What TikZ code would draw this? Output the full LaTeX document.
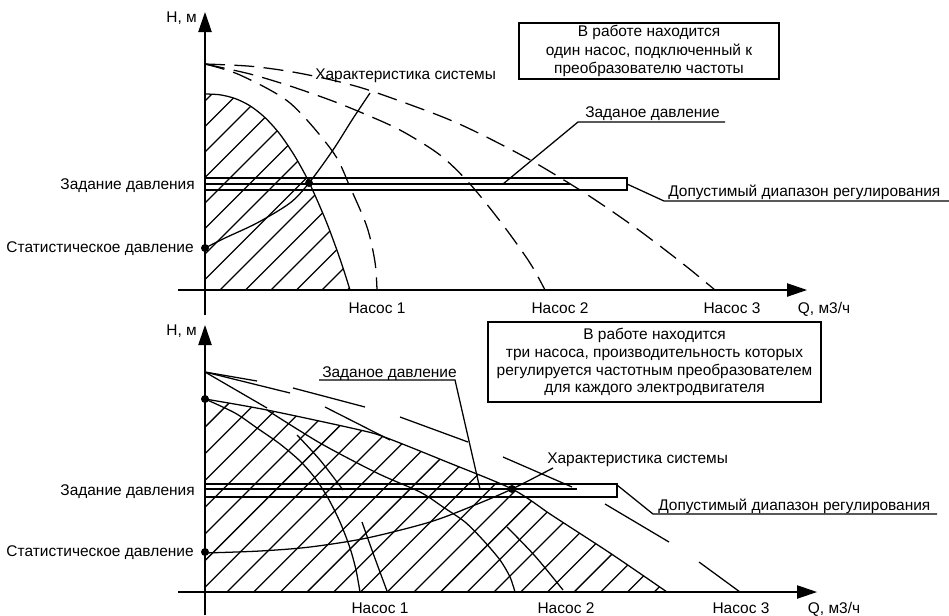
\documentclass[tikz,border=0pt]{standalone}
\usepackage{fontspec}
\setmainfont{Liberation Sans}
\usetikzlibrary{arrows.meta}
\begin{document}
\begin{tikzpicture}[x=0.75pt,y=-0.75pt,
  every node/.style={inner sep=0pt, font=\fontsize{11.6}{13.9}\selectfont},
  ln/.style={line width=0.95pt},
  axis/.style={line width=0.95pt,-{Triangle[length=15pt,width=10pt]}},
  dsh/.style={line width=0.95pt,dash pattern=on 15pt off 7pt},
  hatchline/.style={line width=0.95pt},
  dot/.style={circle,fill,inner sep=0pt,minimum size=6pt},
  lbl/.style={anchor=base east},
  lblw/.style={anchor=base west},
  lblc/.style={anchor=base},
  infobox/.style={draw,line width=0.95pt,align=center}
]
\useasboundingbox (0,0) rectangle (949,615);

% ================= TOP CHART =================
\coordinate (yb1) at (205,315); \coordinate (yt1) at (205,12);
\coordinate (xl1) at (178,290); \coordinate (xr1) at (807,290);
\draw[axis] (yb1) -- (yt1);
\draw[axis] (xl1) -- (xr1);

% hatched area under pump 1
\begin{scope}
\clip (205,290) -- plot[smooth] coordinates {(205,94) (220,94.8) (235,98.5) (250,105.8) (265,117.6) (280,134.3) (295,156.5) (309,182.2) (325,218.5) (335,244.8) (340,259) (345,274) (350,290)} -- cycle;
\foreach \k in {-8,...,6} \draw[hatchline] ({220+25.5*\k},290) -- ++(230,-230);
\end{scope}
\draw[ln] plot[smooth] coordinates {(205,94) (220,94.8) (235,98.5) (250,105.8) (265,117.6) (280,134.3) (295,156.5) (309,182.2) (325,218.5) (335,244.8) (340,259) (345,274) (350,290)};

% dashed pump curves
\draw[dsh] plot[smooth] coordinates {(205,64) (240,75) (290,103) (333,152) (350,187) (367,227) (375,262) (377,290)};
\draw[dsh] plot[smooth] coordinates {(205,64) (250,74) (290,86) (330,100) (360,112) (400,130) (440,155) (470,184) (503,225) (530,263) (545,290)};
\draw[dsh] plot[smooth] coordinates {(205,64) (250,66.2) (290,71.5) (330,79.6) (370,90.5) (440,115.9) (480,133.8) (532,161) (587,194.5) (637,228.8) (683,263.8) (715,290)};

% system characteristic
\draw[ln] plot[smooth] coordinates {(205,248) (225,238) (257,223) (290,203) (309,183) (333,150) (352,120) (370,93)};

% pressure band
\draw[ln] (205,178) rectangle (627,190);
\draw[ln] (205,184) -- (570,184);

\node[dot] (st1) at (205,248) {};
\node[dot] (op1) at (309,183) {};

% labels
\node[lbl] (h1) at (197,22) {Н, м};
\node[lbl] (zd1) at (195,189) {Задание давления};
\node[lbl] (sd1) at (194,252) {Статистическое давление};
\node[lblc] (n11) at (377,313) {Насос 1};
\node[lblc] (n21) at (560,313) {Насос 2};
\node[lblc] (n31) at (732,313) {Насос 3};
\node[lblc] (q1) at (824,313) {Q, м3/ч};
\node[lblw] (hs1) at (315,79) {Характеристика системы};
\node[lblw] (zp1) at (585,117) {Заданое давление};
\node[lblw] (dd1) at (668,196) {Допустимый диапазон регулирования};
\node[infobox, minimum width=195pt, minimum height=42pt] (box1) at (649,51)
  {В работе находится\\один насос, подключенный к\\преобразователю частоты};

% leaders
\coordinate (zpa) at (503,184); \coordinate (zpb) at (578,122); \coordinate (zpc) at (725,122);
\draw[ln] (zpa) -- (zpb) -- (zpc);
\coordinate (dda) at (627,184); \coordinate (ddb) at (664,201); \coordinate (ddc) at (949,201);
\draw[ln] (dda) -- (ddb) -- (ddc);

% ================= BOTTOM CHART =================
\coordinate (yb2) at (205,615); \coordinate (yt2) at (205,325);
\coordinate (xl2) at (178,592); \coordinate (xr2) at (817,592);
\draw[axis] (yb2) -- (yt2);
\draw[axis] (xl2) -- (xr2);

\begin{scope}
\clip (205,592) -- plot[smooth] coordinates {(205,399) (267,410) (360,430) (387,438) (447,462) (512,489) (550,514) (570,527) (613,555) (667,592)} -- cycle;
\foreach \k in {-8,...,16} \draw[hatchline] ({227+26.7*\k},592) -- ++(300,-300);
\end{scope}
% envelope
\draw[ln] plot[smooth] coordinates {(205,399) (267,410) (360,430) (387,438) (447,462) (512,489) (550,514) (570,527) (613,555) (667,592)};
% pump 1 reduced
\draw[ln] plot[smooth] coordinates {(205,399) (235,413) (257,428) (280,444) (300,461) (315,478) (328,498) (340,522) (350,548) (356,570) (360,592)};
% pumps 1+2 reduced
\draw[ln] plot[smooth] coordinates {(267,410) (320,443) (377,473) (420,492) (443,507) (465,522) (483,540) (500,560) (510,577) (515,592)};
% pump 1 at full speed (long dashes)
\draw[ln] (205,372) -- (267,408);
\draw[ln] plot[smooth] coordinates {(297,435) (320,460) (343,490)};
\draw[ln] plot[smooth] coordinates {(362,522) (373,553) (387,591)};
% pumps 1+2 at full speed (long dashes)
\draw[ln] (205,372) -- (290,393);
\draw[ln] (325,407) -- (390,440);
\draw[ln] plot[smooth] coordinates {(507,527) (535,556) (563,590)};
% three pumps at full speed (long dashes)
\draw[ln] (205,372) -- (257,381);
\draw[ln] (293,388) -- (365,407);
\draw[ln] (400,417) -- (468,442);
\draw[ln] (503,457) -- (572,487);
\draw[ln] (605,504) -- (669,542);
\draw[ln] (699,562) -- (740,592);

% system characteristic
\draw[ln] plot[smooth] coordinates {(205,553) (260,551) (310,547) (367,538) (430,522) (475,505) (512,489) (553,468)};

% band
\draw[ln] (205,484) rectangle (617,497);
\draw[ln] (205,489) -- (577,489);

\node[dot] (h0b) at (205,399) {};
\node[dot] (st2) at (205,552) {};
\node[dot] (op2) at (512,489) {};

\node[lbl] (h2) at (197,335) {Н, м};
\node[lbl] (zd2) at (195,495) {Задание давления};
\node[lbl] (sd2) at (194,556) {Статистическое давление};
\node[lblc] (n12) at (380,613) {Насос 1};
\node[lblc] (n22) at (566,613) {Насос 2};
\node[lblc] (n32) at (741,613) {Насос 3};
\node[lblc] (q2) at (834,613) {Q, м3/ч};
\node[lblw] (zp2) at (322,377) {Заданое давление};
\node[lblw] (hs2) at (547,463) {Характеристика системы};
\node[lblw] (dd2) at (658,510) {Допустимый диапазон регулирования};
\node[infobox, minimum width=249.75pt, minimum height=60pt, font=\fontsize{11.6}{13.4}\selectfont] (box2) at (654.5,362)
  {В работе находится\\три насоса, производительность которых\\регулируется частотным преобразователем\\для каждого электродвигателя};

\coordinate (zqa) at (319,380); \coordinate (zqb) at (455,380); \coordinate (zqc) at (480,489);
\draw[ln] (zqa) -- (zqb) -- (zqc);
\coordinate (dea) at (617,485); \coordinate (deb) at (653,514); \coordinate (dec) at (937,514);
\draw[ln] (dea) -- (deb) -- (dec);
\end{tikzpicture}
\end{document}
